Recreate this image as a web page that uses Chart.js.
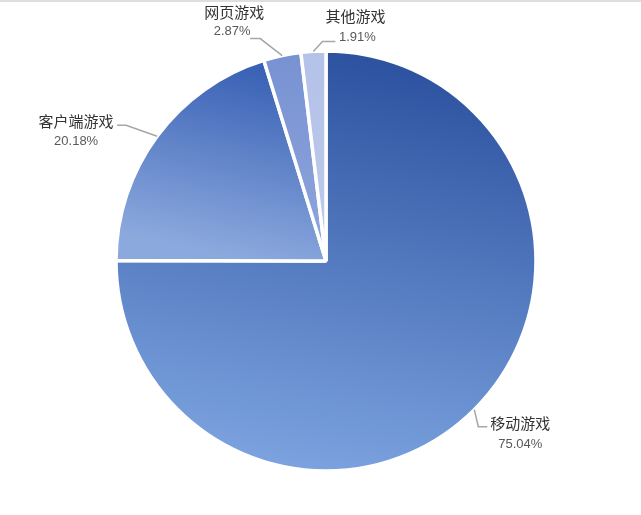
<!DOCTYPE html>
<html>
<head>
<meta charset="utf-8">
<script src="https://cdn.jsdelivr.net/npm/chart.js@4/dist/chart.umd.min.js"></script>
<style>
  html, body { margin: 0; padding: 0; background: #fff; }
  #wrap { position: relative; width: 641px; height: 515px; }
  #topline { position: absolute; left: 0; top: 0; width: 641px; height: 2px; background: #dedede; }
</style>
</head>
<body>
<div id="wrap">
  <canvas id="pieChart" width="641" height="515"></canvas>
  <div id="topline"></div>
</div>
<script>
// 数据
const categories = ['移动游戏', '客户端游戏', '网页游戏', '其他游戏'];
const shares = [75.04, 20.18, 2.87, 1.91];
const shareLabels = ['75.04%', '20.18%', '2.87%', '1.91%'];

// 每个扇区的渐变颜色 [起点, 终点]
const sliceColors = [
    ['#2b519f', '#7ca3df'],
    ['#3860b4', '#8ca9de'],
    ['#7891d2', '#8ea7dd'],
    ['#b4c2e9', '#bccaec']
];

// 引导线与标签的位置 (相对扇区外缘中点)
const labelLayout = [
    { elbow: [4, 17], end: [13, 17], name: [46, 14], pct: [46, 35] },
    { elbow: [-31, -11], end: [-40, -11], name: [-81, -15], pct: [-81, 5] },
    { elbow: [-22, -17], end: [-32, -17], name: [-48, -43], pct: [-50, -24] },
    { elbow: [9, -10], end: [22, -10], name: [42, -35], pct: [44, -14] }
];

function sliceGradient(context) {
    const chart = context.chart;
    const area = chart.chartArea;
    const i = context.dataIndex;
    if (!area) return sliceColors[i][0];
    const ctx = chart.ctx;
    let g;
    if (i === 0) {
        g = ctx.createLinearGradient(380, 52, 300, 470);
    } else if (i === 1) {
        g = ctx.createLinearGradient(240, 62, 200, 250);
    } else {
        g = ctx.createLinearGradient(300, 50, 300, 262);
    }
    g.addColorStop(0, sliceColors[i][0]);
    g.addColorStop(1, sliceColors[i][1]);
    return g;
}

// 外部标签插件
const outsideLabels = {
    id: 'outsideLabels',
    afterDatasetsDraw(chart) {
        const ctx = chart.ctx;
        const meta = chart.getDatasetMeta(0);
        ctx.save();
        meta.data.forEach((arc, i) => {
            const p = arc.getProps(['x', 'y', 'startAngle', 'endAngle', 'outerRadius'], true);
            const mid = (p.startAngle + p.endAngle) / 2;
            const sx = p.x + Math.cos(mid) * p.outerRadius;
            const sy = p.y + Math.sin(mid) * p.outerRadius;
            const lay = labelLayout[i];

            ctx.strokeStyle = '#a6a6a6';
            ctx.lineWidth = 1.5;
            ctx.beginPath();
            ctx.moveTo(sx, sy);
            ctx.lineTo(sx + lay.elbow[0], sy + lay.elbow[1]);
            ctx.lineTo(sx + lay.end[0], sy + lay.end[1]);
            ctx.stroke();

            ctx.textAlign = 'center';
            ctx.textBaseline = 'middle';
            ctx.fillStyle = '#333333';
            ctx.font = '15px "Noto Sans CJK SC", sans-serif';
            ctx.fillText(categories[i], sx + lay.name[0], sy + lay.name[1]);
            ctx.fillStyle = '#595959';
            ctx.font = '13px "Liberation Sans", Arial, sans-serif';
            ctx.fillText(shareLabels[i], sx + lay.pct[0], sy + lay.pct[1]);
        });
        ctx.restore();
    }
};

function drawChart() {
    const ctx = document.getElementById('pieChart').getContext('2d');

    const config = {
        type: 'pie',
        data: {
            labels: categories,
            datasets: [{
                data: shares,
                backgroundColor: sliceGradient,
                borderColor: '#ffffff',
                borderWidth: 3.5,
                hoverOffset: 0
            }]
        },
        options: {
            responsive: false,
            animation: false,
            events: [],
            radius: 210,
            layout: {
                padding: { left: 11, top: 7, right: 0, bottom: 0 }
            },
            plugins: {
                legend: { display: false },
                tooltip: { enabled: false }
            }
        },
        plugins: [outsideLabels]
    };

    new Chart(ctx, config);
}

drawChart();
</script>
</body>
</html>
